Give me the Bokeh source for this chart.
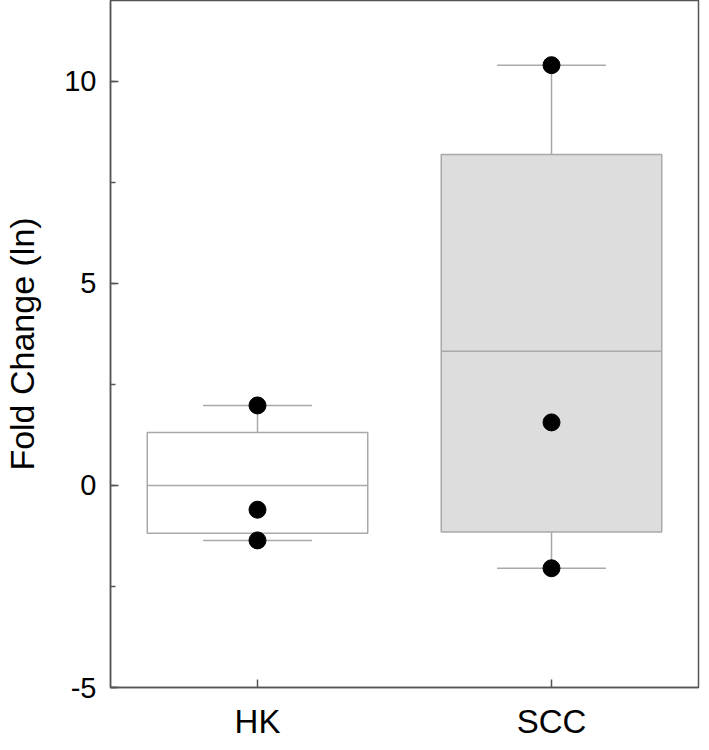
from bokeh.plotting import figure
from bokeh.models import FactorRange, Range1d, SingleIntervalTicker, ColumnDataSource, PrintfTickFormatter
from bokeh.transform import dodge
from bokeh.embed import file_html
from bokeh.resources import INLINE

# ---- data ----
categories = ["HK", "SCC"]
q1 = [-1.18, -1.15]
median = [0.0, 3.32]
q3 = [1.31, 8.19]
whisker_low = [-1.36, -2.05]
whisker_high = [1.98, 10.4]
fills = ["#ffffff", "#dddddd"]
hk_points = [1.98, -0.6, -1.36]
scc_points = [10.4, 1.56, -2.05]

FONT = "Liberation Sans"
GREY = "#a9a9a9"
AX = "#555555"

p = figure(width=701, height=742, output_backend="svg", toolbar_location=None,
           x_range=FactorRange(factors=categories, range_padding=0),
           y_range=Range1d(-5, 12),
           min_border_left=105, min_border_right=3, min_border_top=0, min_border_bottom=0)

p.grid.visible = False
p.background_fill_color = "white"
p.border_fill_color = "white"
p.outline_line_color = AX
p.outline_line_width = 1.5

src = ColumnDataSource(dict(x=categories, q1=q1, med=median, q3=q3,
                            lo=whisker_low, hi=whisker_high, fill=fills))

# whisker stems
p.segment(x0="x", x1="x", y0="q3", y1="hi", source=src, line_color=GREY, line_width=1.5)
p.segment(x0="x", x1="x", y0="lo", y1="q1", source=src, line_color=GREY, line_width=1.5)
# caps
p.segment(x0=dodge("x", -0.185, range=p.x_range), x1=dodge("x", 0.185, range=p.x_range),
          y0="hi", y1="hi", source=src, line_color=GREY, line_width=1.5)
p.segment(x0=dodge("x", -0.185, range=p.x_range), x1=dodge("x", 0.185, range=p.x_range),
          y0="lo", y1="lo", source=src, line_color=GREY, line_width=1.5)
# boxes
p.vbar(x="x", width=0.75, bottom="q1", top="q3", source=src, fill_color="fill",
       line_color=GREY, line_width=1.5)
# medians
p.segment(x0=dodge("x", -0.375, range=p.x_range), x1=dodge("x", 0.375, range=p.x_range),
          y0="med", y1="med", source=src, line_color=GREY, line_width=1.5)

# points
px = [categories[0]] * len(hk_points) + [categories[1]] * len(scc_points)
py = hk_points + scc_points
p.scatter(x=px, y=py, size=17, fill_color="black", line_color="black")

# axes
p.yaxis.ticker = SingleIntervalTicker(interval=5, num_minor_ticks=2)
p.yaxis.formatter = PrintfTickFormatter(format="%d")
p.yaxis.axis_label = "Fold Change (ln)"
for ax in (p.xaxis[0], p.yaxis[0]):
    ax.axis_line_color = AX
    ax.axis_line_width = 1.5
    ax.major_tick_line_color = AX
    ax.major_tick_line_width = 1.5
    ax.minor_tick_line_color = AX
    ax.minor_tick_line_width = 1.5
    ax.major_tick_in = 8
    ax.major_tick_out = 0
    ax.minor_tick_in = 5
    ax.minor_tick_out = 0
    ax.major_label_text_font = FONT
    ax.major_label_text_color = "black"
    ax.axis_label_text_font = FONT
    ax.axis_label_text_font_style = "normal"
    ax.axis_label_text_color = "black"

p.yaxis.major_label_text_font_size = "29px"
p.yaxis.major_label_standoff = 14
p.yaxis.axis_label_text_font_size = "34px"
p.yaxis.axis_label_standoff = 20
p.xaxis.major_label_text_font_size = "33px"
p.xaxis.major_label_standoff = 15

open("out.html", "w").write(file_html(p, INLINE))
